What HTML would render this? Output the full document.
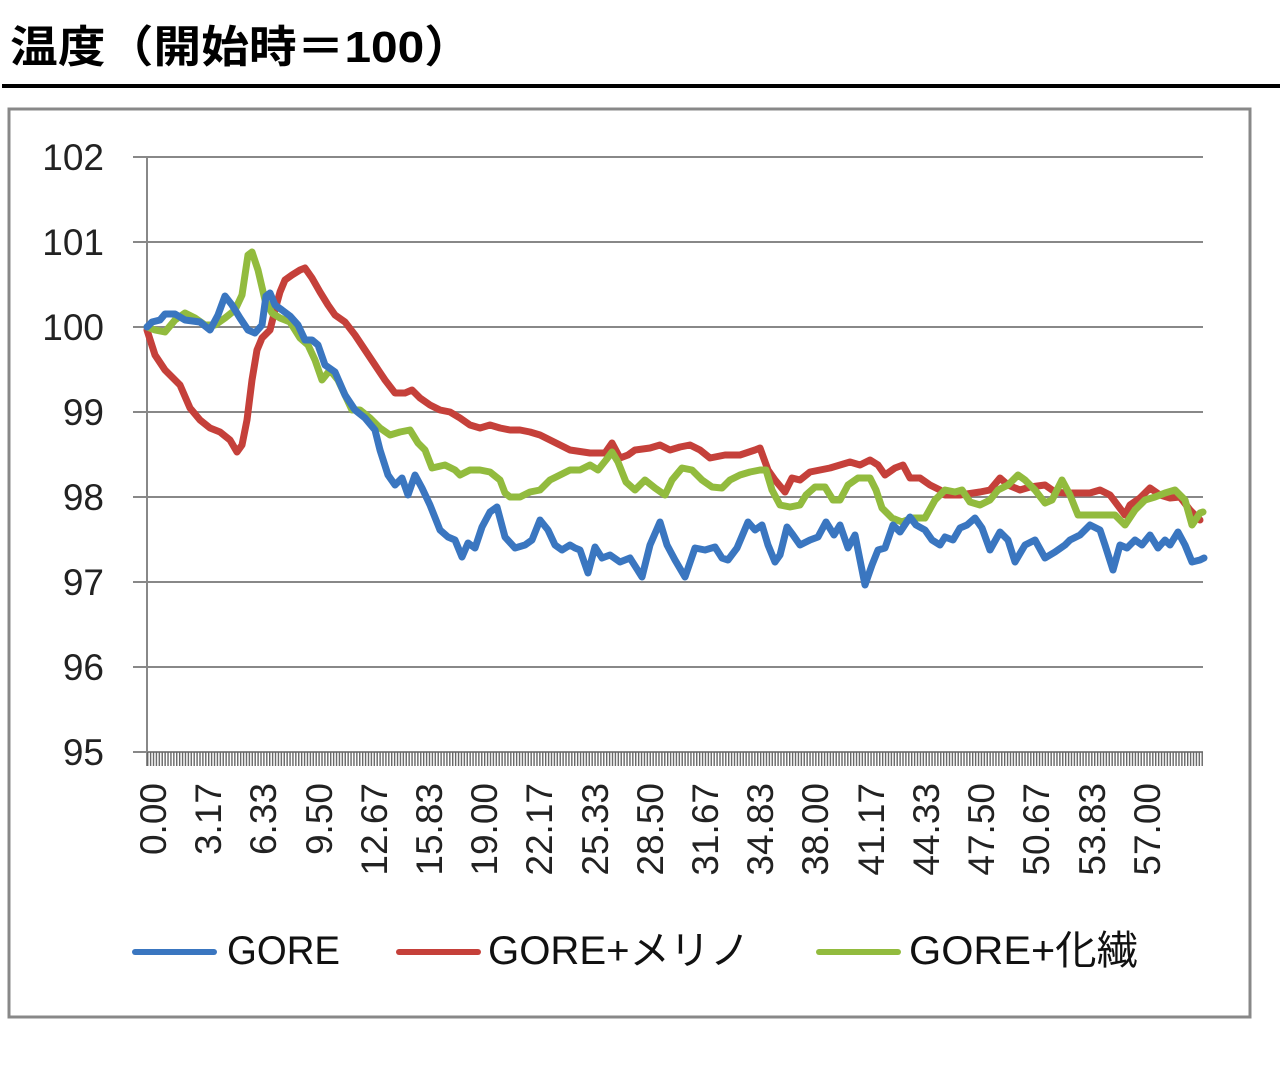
<!DOCTYPE html>
<html><head><meta charset="utf-8"><style>
html,body{margin:0;padding:0;background:#fff;}
svg{display:block;}
</style></head><body>
<svg width="1280" height="1084" viewBox="0 0 1280 1084" xmlns="http://www.w3.org/2000/svg" font-family="'Liberation Sans','Noto Sans CJK JP',sans-serif">
<defs>
<pattern id="tk" x="147" y="0" width="2.905" height="20" patternUnits="userSpaceOnUse">
<rect x="0" y="0" width="1.4" height="20" fill="#666"/>
</pattern>
</defs>
<text x="10" y="62" font-size="44" font-weight="bold" fill="#000" textLength="462" lengthAdjust="spacingAndGlyphs">温度（開始時＝100）</text>
<rect x="2" y="84" width="1278" height="4" fill="#000"/>
<rect x="9" y="109" width="1241" height="908" fill="#fff" stroke="#888" stroke-width="3"/>
<g stroke="#888" stroke-width="2">
<line x1="133" y1="157" x2="1203" y2="157"/>
<line x1="133" y1="242" x2="1203" y2="242"/>
<line x1="133" y1="327" x2="1203" y2="327"/>
<line x1="133" y1="412" x2="1203" y2="412"/>
<line x1="133" y1="497" x2="1203" y2="497"/>
<line x1="133" y1="582" x2="1203" y2="582"/>
<line x1="133" y1="667" x2="1203" y2="667"/>
<line x1="133" y1="752" x2="1203" y2="752"/>
<line x1="147" y1="157" x2="147" y2="766"/>
</g>
<rect x="147" y="752" width="1057" height="14" fill="url(#tk)"/>
<g font-size="37" fill="#222" text-anchor="end">
<text x="104" y="170">102</text>
<text x="104" y="255">101</text>
<text x="104" y="340">100</text>
<text x="104" y="425">99</text>
<text x="104" y="510">98</text>
<text x="104" y="595">97</text>
<text x="104" y="680">96</text>
<text x="104" y="765">95</text>
</g>
<g font-size="37" fill="#222" text-anchor="end">
<text transform="translate(153,783) rotate(-90)" y="13">0.00</text>
<text transform="translate(208,783) rotate(-90)" y="13">3.17</text>
<text transform="translate(263,783) rotate(-90)" y="13">6.33</text>
<text transform="translate(319,783) rotate(-90)" y="13">9.50</text>
<text transform="translate(374,783) rotate(-90)" y="13">12.67</text>
<text transform="translate(429,783) rotate(-90)" y="13">15.83</text>
<text transform="translate(484,783) rotate(-90)" y="13">19.00</text>
<text transform="translate(539,783) rotate(-90)" y="13">22.17</text>
<text transform="translate(595,783) rotate(-90)" y="13">25.33</text>
<text transform="translate(650,783) rotate(-90)" y="13">28.50</text>
<text transform="translate(705,783) rotate(-90)" y="13">31.67</text>
<text transform="translate(760,783) rotate(-90)" y="13">34.83</text>
<text transform="translate(815,783) rotate(-90)" y="13">38.00</text>
<text transform="translate(871,783) rotate(-90)" y="13">41.17</text>
<text transform="translate(926,783) rotate(-90)" y="13">44.33</text>
<text transform="translate(981,783) rotate(-90)" y="13">47.50</text>
<text transform="translate(1036,783) rotate(-90)" y="13">50.67</text>
<text transform="translate(1092,783) rotate(-90)" y="13">53.83</text>
<text transform="translate(1147,783) rotate(-90)" y="13">57.00</text>
</g>
<g fill="none" stroke-width="7" stroke-linejoin="round" stroke-linecap="round">
<polyline stroke="#c5403a" points="147,330 155,355 165,370 180,385 190,408 200,420 210,428 220,432 230,440 237,452 242,445 247,420 252,380 257,350 262,338 270,330 275,310 280,292 285,280 292,275 300,270 305,268 312,278 320,292 328,305 335,315 345,322 355,335 365,350 375,365 385,380 395,393 405,393 412,390 420,398 430,405 440,410 450,412 460,418 470,425 480,428 490,425 500,428 510,430 520,430 530,432 540,435 550,440 560,445 570,450 590,453 605,453 612,443 620,458 628,455 635,450 650,448 660,445 670,450 680,447 690,445 700,450 710,458 725,455 740,455 755,450 760,448 768,470 775,480 785,492 792,478 800,480 810,472 820,470 830,468 840,465 850,462 860,465 870,460 878,465 885,475 895,468 903,465 910,478 920,478 930,485 940,490 945,495 960,495 980,492 990,490 1000,478 1008,485 1020,490 1030,487 1045,485 1055,492 1065,493 1080,493 1090,493 1100,490 1110,495 1125,515 1130,505 1140,498 1150,488 1160,495 1170,498 1180,497 1190,510 1200,520"/>
<polyline stroke="#92bb3e" points="147,327 155,330 165,332 175,320 185,313 195,318 205,325 215,325 225,318 235,310 242,295 248,255 252,252 258,270 265,300 272,313 280,318 290,322 300,338 308,345 315,360 322,380 330,370 338,380 345,395 352,410 360,410 370,418 380,428 390,435 400,432 410,430 418,443 425,450 432,468 445,465 455,470 460,475 470,470 480,470 490,472 500,480 505,493 510,497 520,497 530,492 540,490 550,480 560,475 570,470 580,470 590,465 598,470 606,460 612,452 618,462 626,482 635,490 645,480 655,488 665,495 672,480 682,468 692,470 702,480 712,487 722,488 730,480 740,475 750,472 760,470 766,470 772,490 780,505 790,507 800,505 806,495 815,487 825,487 833,500 840,500 848,485 858,478 870,478 876,490 882,508 892,518 902,522 912,518 925,518 935,500 945,490 955,492 962,490 970,502 980,505 990,500 998,490 1008,485 1018,475 1025,480 1035,490 1045,503 1052,500 1062,480 1070,495 1078,515 1085,515 1095,515 1105,515 1115,515 1125,525 1135,510 1145,500 1155,497 1165,493 1175,490 1185,500 1192,525 1200,513 1203,512"/>
<polyline stroke="#3a76c0" points="147,327 152,322 160,320 165,314 175,314 185,320 200,322 210,330 218,315 225,296 232,305 240,318 248,330 255,333 262,325 266,296 270,293 275,305 282,310 290,316 298,325 305,340 312,340 318,345 325,365 335,372 345,395 355,410 365,418 375,430 380,450 388,475 395,485 402,478 408,495 415,475 422,488 430,505 440,530 448,537 455,540 462,557 468,543 475,548 482,527 490,512 497,507 505,537 515,548 525,545 532,540 540,520 548,530 555,545 562,550 570,545 575,548 580,550 588,573 595,547 602,558 610,555 620,562 630,558 642,577 650,545 660,522 667,545 675,560 685,577 695,548 705,550 715,547 722,558 728,560 737,548 748,522 755,530 762,525 768,545 775,562 780,555 787,527 793,535 800,545 810,540 818,537 826,522 834,535 840,525 848,548 855,535 865,585 872,565 878,550 885,548 893,525 900,532 910,517 916,525 925,530 932,540 940,545 945,537 953,540 960,528 967,525 975,518 982,528 990,550 1000,532 1008,540 1015,562 1025,545 1035,540 1045,558 1055,552 1065,545 1070,540 1080,535 1090,525 1100,530 1105,545 1113,570 1120,545 1127,548 1135,540 1142,545 1150,535 1158,548 1165,540 1170,545 1178,532 1185,545 1192,562 1200,560 1204,558"/>
</g>
<g stroke-width="6" stroke-linecap="round">
<line x1="135" y1="952" x2="214" y2="952" stroke="#3a76c0"/>
<line x1="399" y1="952" x2="478" y2="952" stroke="#c5403a"/>
<line x1="819" y1="952" x2="898" y2="952" stroke="#92bb3e"/>
</g>
<g font-size="40" fill="#111">
<text x="227" y="964" textLength="113" lengthAdjust="spacingAndGlyphs">GORE</text>
<text x="488" y="964" textLength="262" lengthAdjust="spacingAndGlyphs">GORE+メリノ</text>
<text x="909" y="964" textLength="229" lengthAdjust="spacingAndGlyphs">GORE+化繊</text>
</g>
</svg>
</body></html>
